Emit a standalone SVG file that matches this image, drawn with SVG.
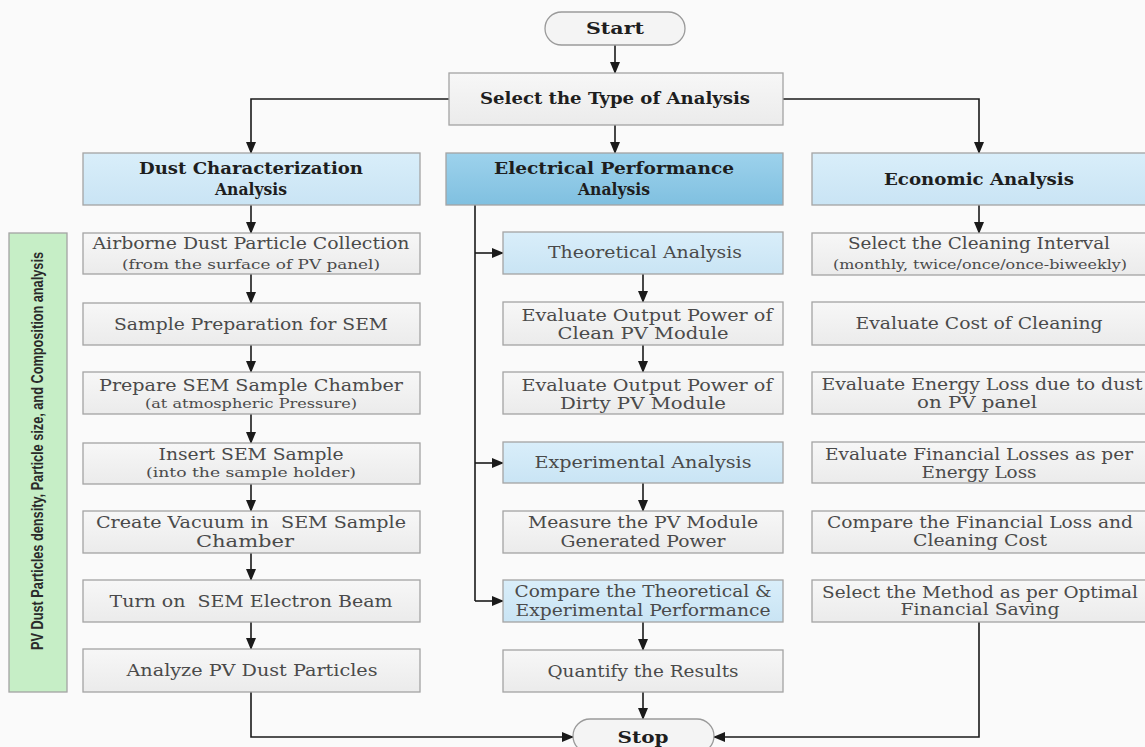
<svg xmlns="http://www.w3.org/2000/svg" width="1145" height="747" viewBox="0 0 1145 747">
<defs>
<linearGradient id="gGray" x1="0" y1="0" x2="0" y2="1">
<stop offset="0" stop-color="#f7f7f7"/><stop offset="1" stop-color="#ebebeb"/>
</linearGradient>
<linearGradient id="gBlue" x1="0" y1="0" x2="0" y2="1">
<stop offset="0" stop-color="#d9eefa"/><stop offset="1" stop-color="#c9e4f4"/>
</linearGradient>
<linearGradient id="gDark" x1="0" y1="0" x2="0" y2="1">
<stop offset="0" stop-color="#9dd2ec"/><stop offset="1" stop-color="#80c0e0"/>
</linearGradient>
<marker id="arr" markerUnits="userSpaceOnUse" markerWidth="12" markerHeight="10" refX="11" refY="5" orient="auto">
<path d="M0,0 L12,5 L0,10 Z" fill="#1a1a1a"/>
</marker>
<style>
.box{fill:url(#gGray);stroke:#a4a4a4;stroke-width:1.3}
.blue{fill:url(#gBlue);stroke:#a4a4a4;stroke-width:1.3}
.dark{fill:url(#gDark);stroke:#a4a4a4;stroke-width:1.3}
.pill{fill:#f4f4f4;stroke:#9a9a9a;stroke-width:1.3}
.t{font-family:"DejaVu Serif","Liberation Serif",serif;font-size:16px;fill:#4a4a4a;text-anchor:middle}
.s{font-family:"DejaVu Serif","Liberation Serif",serif;font-size:12px;fill:#4a4a4a;text-anchor:middle}
.b{font-family:"DejaVu Serif","Liberation Serif",serif;font-size:16px;font-weight:bold;fill:#1e1e1e;text-anchor:middle}
.side{font-family:"Liberation Sans Narrow","Liberation Sans",sans-serif;font-size:16px;font-weight:bold;fill:#2a2a2a;text-anchor:middle}
.ln{fill:none;stroke:#1a1a1a;stroke-width:1.6}
.ar{fill:none;stroke:#1a1a1a;stroke-width:1.6;marker-end:url(#arr)}
</style>
</defs>
<rect x="0" y="0" width="1145" height="747" fill="#fafafa"/>

<g id="connectors">
<path class="ar" d="M615,45 V73"/>
<path class="ar" d="M449,99 H251 V153"/>
<path class="ar" d="M783,99 H979 V153"/>
<path class="ar" d="M615,125 V153"/>
<path class="ar" d="M251,205 V233"/>
<path class="ar" d="M251,274 V303"/>
<path class="ar" d="M251,345 V372"/>
<path class="ar" d="M251,414 V443"/>
<path class="ar" d="M251,484 V511"/>
<path class="ar" d="M251,553 V580"/>
<path class="ar" d="M251,622 V649"/>
<path class="ar" d="M251,692 V737 H573"/>
<path class="ln" d="M475,205 V601"/>
<path class="ar" d="M475,253 H503"/>
<path class="ar" d="M475,463 H503"/>
<path class="ar" d="M475,601 H503"/>
<path class="ar" d="M643,274 V302"/>
<path class="ar" d="M643,345 V372"/>
<path class="ar" d="M643,483 V511"/>
<path class="ar" d="M643,622 V650"/>
<path class="ar" d="M643,692 V719"/>
<path class="ar" d="M979,205 V233"/>
<path class="ar" d="M979,622 V737 H714"/>
</g>

<g id="start"><rect class="pill" x="545" y="12" width="140" height="33" rx="16.5"/><text class="b" x="615" y="34" font-size="17" textLength="58" lengthAdjust="spacingAndGlyphs">Start</text></g>
<g id="select-type"><rect class="box" x="449" y="73" width="334" height="52"/><text class="b" x="615" y="104" textLength="270" lengthAdjust="spacingAndGlyphs">Select the Type of Analysis</text></g>

<g id="dust-char"><rect class="blue" x="83" y="153" width="337" height="52"/><text class="b" x="251" y="174" textLength="224" lengthAdjust="spacingAndGlyphs">Dust Characterization</text><text class="b" x="251" y="195" textLength="72" lengthAdjust="spacingAndGlyphs">Analysis</text></g>
<g id="electrical"><rect class="dark" x="446" y="153" width="337" height="52"/><text class="b" x="614" y="174" textLength="240" lengthAdjust="spacingAndGlyphs">Electrical Performance</text><text class="b" x="614" y="195" textLength="72" lengthAdjust="spacingAndGlyphs">Analysis</text></g>
<g id="economic"><rect class="blue" x="812" y="153" width="334" height="52"/><text class="b" x="979" y="185" textLength="190" lengthAdjust="spacingAndGlyphs">Economic Analysis</text></g>

<g id="sidebar"><rect x="9" y="233" width="58" height="459" fill="#c6eec6" stroke="#a4a4a4" stroke-width="1.3"/><text class="side" transform="translate(43,451) rotate(-90)" textLength="398" lengthAdjust="spacingAndGlyphs">PV Dust Particles density, Particle size, and Composition analysis</text></g>

<g id="airborne"><rect class="box" x="83" y="233" width="337" height="41"/><text class="t" x="251" y="249" textLength="317" lengthAdjust="spacingAndGlyphs">Airborne Dust Particle Collection</text><text class="s" x="251" y="269" textLength="258" lengthAdjust="spacingAndGlyphs">(from the surface of PV panel)</text></g>
<g id="sample-prep"><rect class="box" x="83" y="303" width="337" height="42"/><text class="t" x="251" y="330" textLength="274" lengthAdjust="spacingAndGlyphs">Sample Preparation for SEM</text></g>
<g id="prepare-chamber"><rect class="box" x="83" y="372" width="337" height="42"/><text class="t" x="251" y="391" textLength="304" lengthAdjust="spacingAndGlyphs">Prepare SEM Sample Chamber</text><text class="s" x="251" y="408" textLength="212" lengthAdjust="spacingAndGlyphs">(at atmospheric Pressure)</text></g>
<g id="insert-sample"><rect class="box" x="83" y="443" width="337" height="41"/><text class="t" x="251" y="460" textLength="185" lengthAdjust="spacingAndGlyphs">Insert SEM Sample</text><text class="s" x="251" y="477" textLength="210" lengthAdjust="spacingAndGlyphs">(into the sample holder)</text></g>
<g id="create-vacuum"><rect class="box" x="83" y="511" width="337" height="42"/><text class="t" x="251" y="528" textLength="310" lengthAdjust="spacingAndGlyphs" xml:space="preserve">Create Vacuum in  SEM Sample</text><text class="t" x="245" y="547" textLength="98" lengthAdjust="spacingAndGlyphs">Chamber</text></g>
<g id="turn-on-beam"><rect class="box" x="83" y="580" width="337" height="42"/><text class="t" x="251" y="607" textLength="283" lengthAdjust="spacingAndGlyphs" xml:space="preserve">Turn on  SEM Electron Beam</text></g>
<g id="analyze-dust"><rect class="box" x="83" y="649" width="337" height="43"/><text class="t" x="252" y="676" textLength="251" lengthAdjust="spacingAndGlyphs">Analyze PV Dust Particles</text></g>

<g id="theoretical"><rect class="blue" x="503" y="232" width="280" height="42"/><text class="t" x="645" y="258" textLength="194" lengthAdjust="spacingAndGlyphs">Theoretical Analysis</text></g>
<g id="eval-clean"><rect class="box" x="503" y="302" width="280" height="43"/><text class="t" x="647" y="321" textLength="251" lengthAdjust="spacingAndGlyphs">Evaluate Output Power of</text><text class="t" x="643" y="339" textLength="171" lengthAdjust="spacingAndGlyphs">Clean PV Module</text></g>
<g id="eval-dirty"><rect class="box" x="503" y="372" width="280" height="42"/><text class="t" x="647" y="391" textLength="251" lengthAdjust="spacingAndGlyphs">Evaluate Output Power of</text><text class="t" x="643" y="409" textLength="166" lengthAdjust="spacingAndGlyphs">Dirty PV Module</text></g>
<g id="experimental"><rect class="blue" x="503" y="442" width="280" height="41"/><text class="t" x="643" y="468" textLength="217" lengthAdjust="spacingAndGlyphs">Experimental Analysis</text></g>
<g id="measure"><rect class="box" x="503" y="511" width="280" height="42"/><text class="t" x="643" y="528" textLength="230" lengthAdjust="spacingAndGlyphs">Measure the PV Module</text><text class="t" x="643" y="547" textLength="165" lengthAdjust="spacingAndGlyphs">Generated Power</text></g>
<g id="compare-perf"><rect class="blue" x="503" y="580" width="280" height="42"/><text class="t" x="643" y="597" textLength="257" lengthAdjust="spacingAndGlyphs">Compare the Theoretical &amp;</text><text class="t" x="643" y="616" textLength="255" lengthAdjust="spacingAndGlyphs">Experimental Performance</text></g>
<g id="quantify"><rect class="box" x="503" y="650" width="280" height="42"/><text class="t" x="643" y="677" textLength="191" lengthAdjust="spacingAndGlyphs">Quantify the Results</text></g>
<g id="stop"><rect class="pill" x="573" y="719" width="141" height="34" rx="17"/><text class="b" x="643" y="743" font-size="17" textLength="51" lengthAdjust="spacingAndGlyphs">Stop</text></g>

<g id="cleaning-interval"><rect class="box" x="812" y="233" width="334" height="42"/><text class="t" x="979" y="249" textLength="262" lengthAdjust="spacingAndGlyphs">Select the Cleaning Interval</text><text class="s" x="980" y="269" textLength="294" lengthAdjust="spacingAndGlyphs">(monthly, twice/once/once-biweekly)</text></g>
<g id="cost-cleaning"><rect class="box" x="812" y="302" width="334" height="43"/><text class="t" x="979" y="329" textLength="247" lengthAdjust="spacingAndGlyphs">Evaluate Cost of Cleaning</text></g>
<g id="energy-loss"><rect class="box" x="812" y="372" width="334" height="42"/><text class="t" x="982" y="390" textLength="321" lengthAdjust="spacingAndGlyphs">Evaluate Energy Loss due to dust</text><text class="t" x="977" y="408" textLength="120" lengthAdjust="spacingAndGlyphs">on PV panel</text></g>
<g id="financial-losses"><rect class="box" x="812" y="442" width="334" height="41"/><text class="t" x="979" y="460" textLength="308" lengthAdjust="spacingAndGlyphs">Evaluate Financial Losses as per</text><text class="t" x="979" y="478" textLength="115" lengthAdjust="spacingAndGlyphs">Energy Loss</text></g>
<g id="compare-financial"><rect class="box" x="812" y="511" width="334" height="42"/><text class="t" x="980" y="528" textLength="306" lengthAdjust="spacingAndGlyphs">Compare the Financial Loss and</text><text class="t" x="980" y="546" textLength="134" lengthAdjust="spacingAndGlyphs">Cleaning Cost</text></g>
<g id="select-method"><rect class="box" x="812" y="580" width="334" height="42"/><text class="t" x="980" y="598" textLength="316" lengthAdjust="spacingAndGlyphs">Select the Method as per Optimal</text><text class="t" x="980" y="615" textLength="159" lengthAdjust="spacingAndGlyphs">Financial Saving</text></g>
</svg>
